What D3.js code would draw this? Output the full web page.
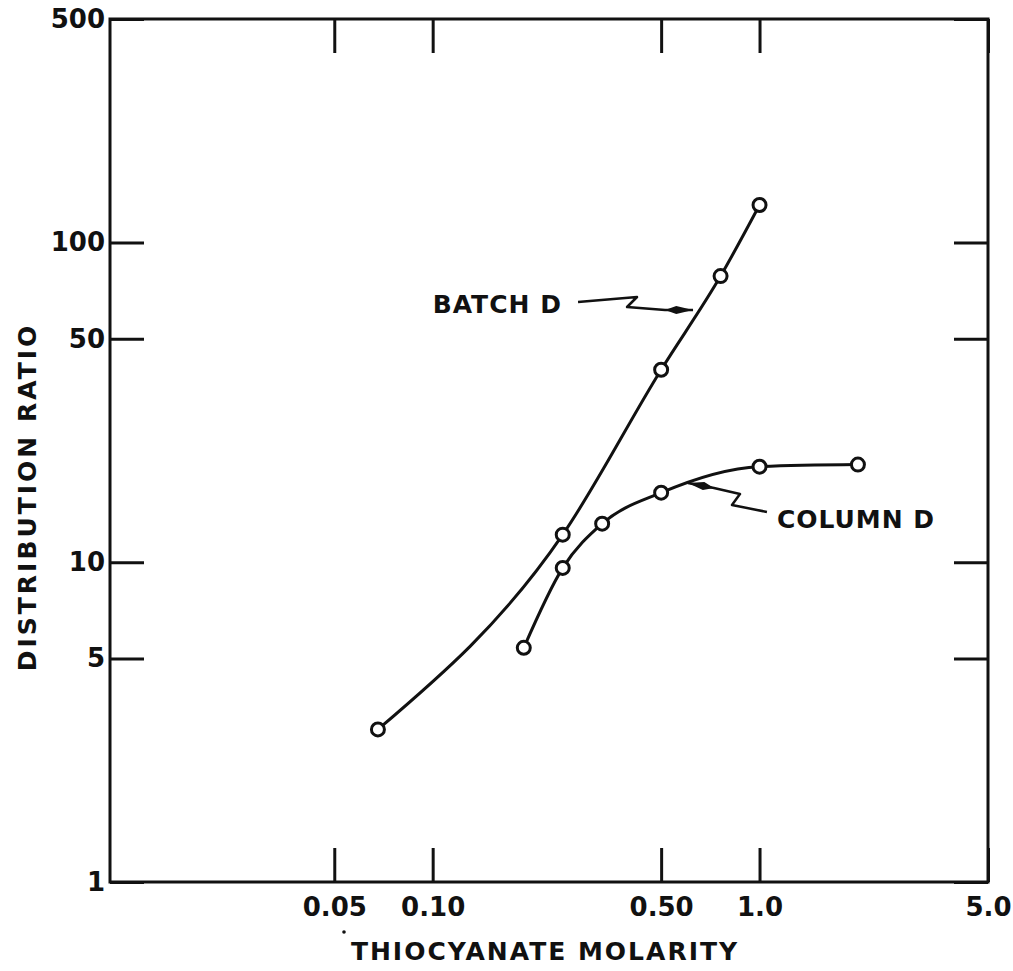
<!DOCTYPE html>
<html>
<head>
<meta charset="utf-8">
<script src="https://cdn.jsdelivr.net/npm/d3@7"></script>
<style>
  body { margin: 0; background: #fff; }
  text { font-family: "DejaVu Sans", sans-serif; font-weight: bold; fill: #111; }
</style>
</head>
<body>
<script>
// data
const xTicks = [0.05, 0.1, 0.5, 1, 5];
const xTickLabels = ["0.05", "0.10", "0.50", "1.0", "5.0"];
const yTicks = [1, 5, 10, 50, 100, 500];
const yTickLabels = ["1", "5", "10", "50", "100", "500"];

const batchX = [0.068, 0.25, 0.5, 0.76, 1.0];
const batchY = [3.0, 12.2, 40, 78.5, 131];
const columnX = [0.19, 0.25, 0.33, 0.5, 1.0, 2.0];
const columnY = [5.4, 9.6, 13.2, 16.5, 19.9, 20.2];

const labelNames = ["BATCH D", "COLUMN D"];
const labelAt = [[0.1, 60], [1.13, 12.8]];
const arrowTip = [[0.626, 61.5], [0.604, 17.7]];

const app = {

  init: () => {
    app.frame();
    app.axes();
    app.curves();
    app.notes();
  },

  setup: () => {
    app.svg = d3.select("body").append("svg")
      .attr("width", 1013)
      .attr("height", 971);
    app.x = d3.scaleLog().domain([0.0103, 5]).range([110, 988]);
    app.y = d3.scaleLog().domain([1, 500]).range([882, 19]);
  },

  frame: () => {
    app.setup();
    const x = app.x, y = app.y;
    app.svg.append("rect")
      .attr("x", x.range()[0])
      .attr("y", y.range()[1])
      .attr("width", x.range()[1] - x.range()[0])
      .attr("height", y.range()[0] - y.range()[1])
      .style("fill", "none")
      .style("stroke", "#111")
      .style("stroke-width", 3);
  },

  axes: () => {
    const x = app.x, y = app.y, svg = app.svg;
    const tick = 34;

    // bottom: ticks point inward, labels under the frame
    svg.append("g")
      .attr("transform", "translate(0," + y.range()[0] + ")")
      .call(d3.axisBottom(x).tickValues(xTicks)
        .tickFormat((d, i) => xTickLabels[i])
        .tickSizeInner(-tick).tickSizeOuter(0).tickPadding(16));
    svg.append("g")
      .attr("transform", "translate(0," + y.range()[1] + ")")
      .call(d3.axisTop(x).tickValues(xTicks)
        .tickFormat("").tickSizeInner(-tick).tickSizeOuter(0));

    svg.append("g")
      .attr("transform", "translate(" + x.range()[0] + ",0)")
      .call(d3.axisLeft(y).tickValues(yTicks)
        .tickFormat((d, i) => yTickLabels[i])
        .tickSizeInner(-tick).tickSizeOuter(0).tickPadding(5));
    svg.append("g")
      .attr("transform", "translate(" + x.range()[1] + ",0)")
      .call(d3.axisRight(y).tickValues(yTicks)
        .tickFormat("").tickSizeInner(-tick).tickSizeOuter(0));

    svg.selectAll(".domain").remove();
    svg.selectAll(".tick line")
      .style("stroke", "#111")
      .style("stroke-width", 3);
    svg.selectAll(".tick text")
      .style("font-size", "26px")
      .style("font-weight", "bold")
      .style("fill", "#111");

    // axis titles
    svg.append("text")
      .attr("x", 545)
      .attr("y", 960)
      .attr("text-anchor", "middle")
      .style("font-size", "25px")
      .style("letter-spacing", "2px")
      .text("THIOCYANATE MOLARITY");
    svg.append("circle")
      .attr("cx", 344).attr("cy", 932).attr("r", 1.8)
      .style("fill", "#111");
    svg.append("text")
      .attr("transform", "translate(36,497) rotate(-90)")
      .attr("text-anchor", "middle")
      .style("font-size", "25px")
      .style("letter-spacing", "3px")
      .text("DISTRIBUTION RATIO");
  },

  curves: () => {
    const x = app.x, y = app.y, svg = app.svg;
    const line = d3.line()
      .x(d => x(d[0]))
      .y(d => y(d[1]))
      .curve(d3.curveMonotoneX);

    [[batchX, batchY], [columnX, columnY]].forEach(s => {
      const pts = s[0].map((v, i) => [v, s[1][i]]);
      svg.append("path")
        .datum(pts)
        .attr("d", line)
        .style("fill", "none")
        .style("stroke", "#111")
        .style("stroke-width", 3);
      svg.append("g").selectAll("circle")
        .data(pts)
        .enter()
        .append("circle")
        .attr("cx", d => x(d[0]))
        .attr("cy", d => y(d[1]))
        .attr("r", 6.5)
        .style("fill", "#fff")
        .style("stroke", "#111")
        .style("stroke-width", 3);
    });
  },

  notes: () => {
    const x = app.x, y = app.y, svg = app.svg;
    // squiggle leader shapes, relative to the arrow tip
    const leaders = [
      [[-115, -8], [-56, -13], [-66, -3], [-28, 0], [0, 0]],
      [[79, 29], [44, 22], [52, 11], [26, 5], [0, 0]]
    ];

    labelNames.forEach((name, i) => {
      svg.append("text")
        .attr("x", x(labelAt[i][0]))
        .attr("y", y(labelAt[i][1]))
        .style("font-size", "25px")
        .style("letter-spacing", "1px")
        .text(name);

      const tx = x(arrowTip[i][0]), ty = y(arrowTip[i][1]);
      const pts = leaders[i].map(p => [tx + p[0], ty + p[1]]);
      svg.append("path")
        .attr("d", d3.line()(pts))
        .style("fill", "none")
        .style("stroke", "#111")
        .style("stroke-width", 2.5)
        .style("stroke-linejoin", "round");

      // slim filled head
      const a = pts[3], b = pts[4];
      const dx = b[0] - a[0], dy = b[1] - a[1];
      const len = Math.hypot(dx, dy), nx = -dy / len, ny = dx / len;
      const m = [a[0] + dx * 0.4, a[1] + dy * 0.4];
      svg.append("path")
        .attr("d", d3.line()([a, [m[0] + nx * 4, m[1] + ny * 4], b, [m[0] - nx * 4, m[1] - ny * 4]]) + "Z")
        .style("fill", "#111");
    });
  }

};

app.init();
</script>
</body>
</html>
